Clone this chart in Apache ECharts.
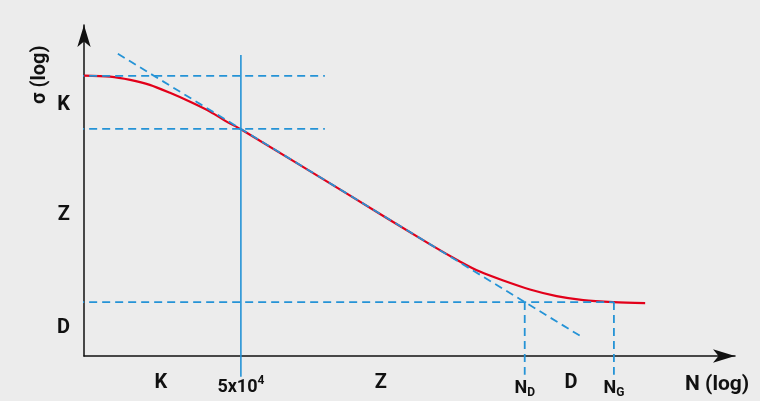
<!DOCTYPE html>
<html>
<head>
<meta charset="utf-8">
<script src="https://cdn.jsdelivr.net/npm/echarts@6/dist/echarts.min.js"></script>
<style>
  html, body { margin: 0; padding: 0; background: #ececec; }
  #main { width: 760px; height: 401px; }
</style>
</head>
<body>
<div id="main"></div>
<script>
// кривая Вёлера (схема), координаты в условных единицах lg N / lg σ
const curveX = [0, 0.4, 0.71, 1.01, 1.32, 1.63, 1.94, 2.19, 2.41, 4.0, 5.31, 5.78, 6.08, 6.44, 6.85, 7.26, 7.67, 8.13, 8.62];
const curveY = [8.47, 8.44, 8.34, 8.19, 7.95, 7.68, 7.38, 7.08, 6.85, 4.95, 3.38, 2.85, 2.55, 2.28, 2.01, 1.81, 1.69, 1.63, 1.60];

// уровни и границы
const kUpper = 8.46;
const kLower = 6.86;
const dLevel = 1.63;
const xKnee = 2.41;   // 5x10^4
const xND = 6.77;
const xNG = 8.14;
const dashStart = -0.32;
const dashEndK = 3.7;

// наклонная асимптота
const slopeX = [0.52, 7.62];
const slopeY = [9.13, 0.61];

// подписи осей
const xTickPos = [1.18, 2.41, 4.56, 6.77, 7.48, 8.14];
const xTickText = ['{b|K}', '{s|5x10}{sup|4}', '{b|Z}', '{s|N}{sub|D}', '{b|D}', '{s|N}{sub|G}'];
const yTickPos = [7.58, 4.26, 0.85];
const yTickText = ['K', 'Z', 'D'];

const blue = '#2593d6';
const red = '#e2001a';
const font = 'Roboto';

let chart = echarts.init(document.getElementById('main'));

const blueDash = {color: blue, width: 1.8, type: [8, 5]};

function seg(points, style) {
    return {
        type: 'line',
        data: points,
        showSymbol: false,
        symbol: 'none',
        clip: false,
        silent: true,
        lineStyle: style,
        z: 3
    };
}

let mySeries = [
    {
        type: 'line',
        data: curveX.map((x, i) => [x, curveY[i]]),
        smooth: 0.3,
        symbol: 'none',
        clip: false,
        silent: true,
        lineStyle: {color: red, width: 2.2},
        z: 2
    },
    seg([[dashStart, kUpper], [dashEndK, kUpper]], blueDash),
    seg([[dashStart, kLower], [dashEndK, kLower]], blueDash),
    seg([[dashStart, dLevel], [xNG, dLevel]], blueDash),
    seg([[slopeX[0], slopeY[0]], [slopeX[1], slopeY[1]]], blueDash),
    seg([[xKnee, 9.09], [xKnee, -0.63]], {color: blue, width: 1.6}),
    seg([[xND, dLevel], [xND, -0.57]], blueDash),
    seg([[xNG, dLevel], [xNG, -0.57]], blueDash)
];

const labelMap = {};
xTickPos.forEach((p, i) => { labelMap[p] = xTickText[i]; });
const yLabelMap = {};
yTickPos.forEach((p, i) => { yLabelMap[p] = yTickText[i]; });

const txt = {fontFamily: font, fontWeight: 'bold', color: '#111'};

const option = {
    backgroundColor: '#ececec',
    animation: false,
    grid: {left: 84, right: 25, top: 25, bottom: 45},
    xAxis: {
        type: 'value',
        min: 0,
        max: 10,
        splitLine: {show: false},
        axisTick: {show: false},
        axisLine: {
            show: true,
            onZero: false,
            symbol: ['none', 'arrow'],
            symbolSize: [10, 22],
            lineStyle: {color: '#111', width: 1.5}
        },
        axisLabel: {
            customValues: xTickPos,
            margin: 17,
            formatter: v => labelMap[v] || '',
            rich: {
                b: Object.assign({fontSize: 20}, txt),
                s: Object.assign({fontSize: 18, padding: [5, 0, 0, 0]}, txt),
                sup: Object.assign({fontSize: 12, padding: [0, 0, 7, 0]}, txt),
                sub: Object.assign({fontSize: 12, padding: [14, 0, 0, 0]}, txt)
            }
        }
    },
    yAxis: {
        type: 'value',
        min: 0,
        max: 10,
        splitLine: {show: false},
        axisTick: {show: false},
        axisLine: {
            show: true,
            onZero: false,
            symbol: ['none', 'arrow'],
            symbolSize: [10, 22],
            lineStyle: {color: '#111', width: 1.5}
        },
        axisLabel: Object.assign({
            customValues: yTickPos,
            margin: 14,
            formatter: v => yLabelMap[v] || '',
            fontSize: 20
        }, txt)
    },
    graphic: [
        {
            type: 'text',
            x: 30,
            y: 104,
            rotation: Math.PI / 2,
            style: {text: 'σ (log)', fontFamily: font, fontSize: 20, fontWeight: 'bold', fill: '#111'}
        },
        {
            type: 'text',
            x: 685,
            y: 374,
            style: {text: 'N (log)', fontFamily: font, fontSize: 21, fontWeight: 'bold', fill: '#111'}
        }
    ]
};

chart.setOption(option);
chart.setOption({series: mySeries});
</script>
</body>
</html>
